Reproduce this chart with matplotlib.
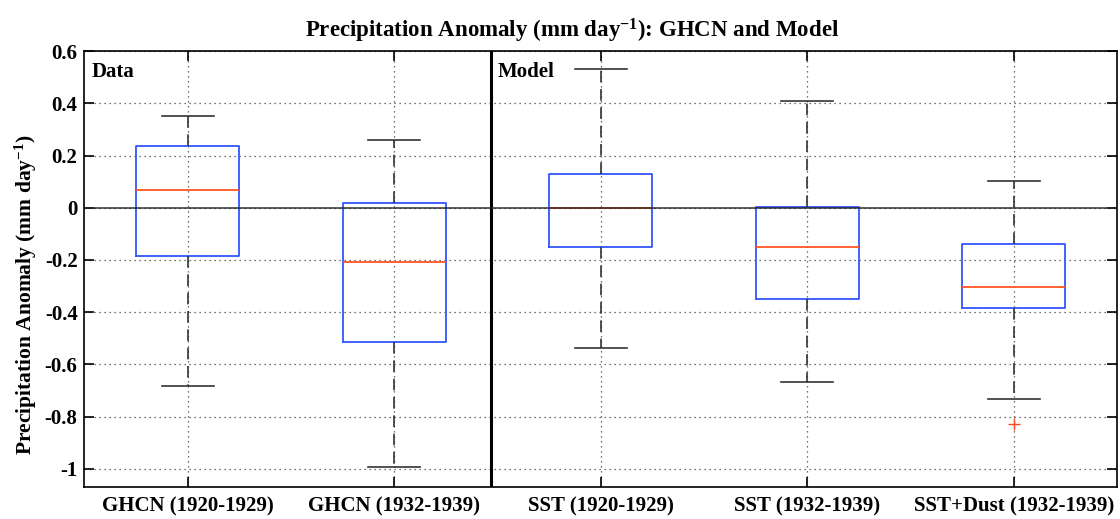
import matplotlib
matplotlib.use("Agg")
import matplotlib.pyplot as plt

# Box statistics (mm/day)
labels = ["GHCN (1920-1929)", "GHCN (1932-1939)", "SST (1920-1929)",
          "SST (1932-1939)", "SST+Dust (1932-1939)"]
whisker_hi = [0.35, 0.258, 0.531, 0.408, 0.104]
q3 = [0.236, 0.020, 0.131, 0.004, -0.138]
median = [0.068, -0.208, 0.0, -0.150, -0.304]
q1 = [-0.185, -0.515, -0.152, -0.350, -0.385]
whisker_lo = [-0.683, -0.992, -0.538, -0.667, -0.733]
outliers = [[], [], [], [], [-0.827]]
yticks = [0.6, 0.4, 0.2, 0, -0.2, -0.4, -0.6, -0.8, -1]
ytick_labels = ['0.6', '0.4', '0.2', '0', '-0.2', '-0.4', '-0.6', '-0.8', '-1']

plt.rcParams['font.family'] = ['Liberation Serif', 'DejaVu Serif']
plt.rcParams['font.weight'] = 'bold'
plt.rcParams['mathtext.fontset'] = 'custom'
plt.rcParams['mathtext.rm'] = 'Liberation Serif:bold'
plt.rcParams['mathtext.it'] = 'Liberation Serif:bold'
plt.rcParams['mathtext.bf'] = 'Liberation Serif:bold'

stats = []
for i in range(len(labels)):
    stats.append(dict(med=median[i], q1=q1[i], q3=q3[i],
                      whislo=whisker_lo[i], whishi=whisker_hi[i],
                      fliers=outliers[i]))

fig = plt.figure(figsize=(11.2, 5.19), dpi=100)
ax = fig.add_axes([0.0754, 0.0617, 0.922, 0.840])

ax.bxp(stats, positions=range(1, 6), widths=0.5, capwidths=0.25,
       boxprops=dict(color='#3355ff', lw=1.3),
       medianprops=dict(color='#ff5522', lw=1.3),
       whiskerprops=dict(color='#333333', lw=1.2, linestyle=(0, (7, 4))),
       capprops=dict(color='#333333', lw=1.2),
       flierprops=dict(marker='+', markeredgecolor='#ff4422', markersize=8))

# zero line is drawn over the boxes, as in the original
ax.axhline(0, color='#222222', lw=1.2, alpha=0.85, zorder=2.5)
ax.axvline(2.47, color='black', lw=2.2)

ax.set_xlim(0.5, 5.5)
ax.set_ylim(-1.069, 0.6)
ax.set_yticks(yticks)
ax.set_yticklabels(ytick_labels)
ax.set_xticks(range(1, 6))
ax.set_xticklabels(labels)
ax.tick_params(direction='in', length=7.5, width=1.2, top=True, right=True,
               labelsize=15)
ax.tick_params(axis='x', pad=7)
ax.tick_params(axis='y', pad=5)
ax.grid(True, linestyle=(0, (1, 3)), color='#444444', lw=0.9)
ax.set_axisbelow(True)
for sp in ax.spines.values():
    sp.set_linewidth(1.2)

ax.text(0.535, 0.502, 'Data', fontsize=15, va='baseline', ha='left')
ax.text(2.50, 0.502, 'Model', fontsize=15, va='baseline', ha='left')

ax.set_title('Precipitation Anomaly (mm day$^{-1}$): GHCN and Model',
             fontsize=16.5, fontweight='bold', pad=10, x=0.472)
ax.set_ylabel('Precipitation Anomaly (mm day$^{-1}$)', fontsize=15.5,
              fontweight='bold')
ax.yaxis.set_label_coords(-0.044, 0.44)

fig.savefig('out.png', dpi=100)
